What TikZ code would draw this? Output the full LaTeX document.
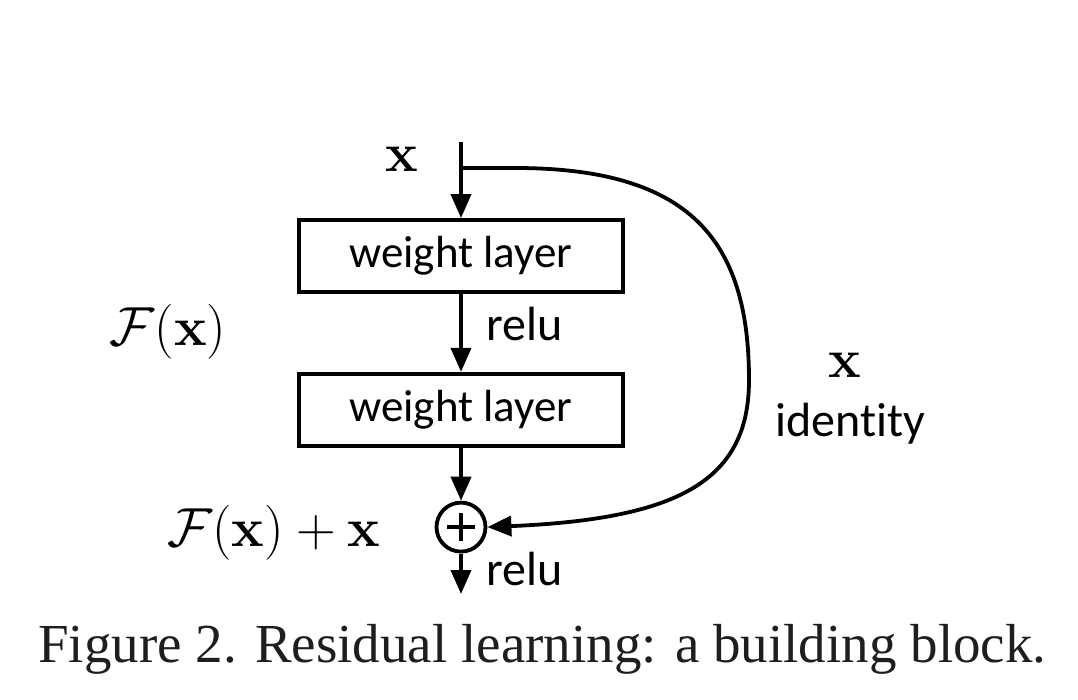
\RequirePackage{fix-cm}
\documentclass[tikz,border=0pt]{standalone}
\usepackage{amsmath}
\usepackage[no-math]{fontspec}
\newfontfamily\labelfont[Ligatures=NoCommon]{Carlito}
\newfontfamily\capfont{Liberation Serif}
\usepackage{tikz}
\usetikzlibrary{positioning}
\usetikzlibrary{arrows.meta}
\definecolor{capgray}{RGB}{30,30,30}

\begin{document}
\begin{tikzpicture}
[
x=1pt, y=-1pt,
node distance = 78pt,
b/.style={rectangle, draw=black, line width=3.8pt, minimum width=324pt, minimum height=72pt, font=\labelfont\fontsize{45}{50}\selectfont},
c/.style={circle, draw=black, line width=3.8pt, minimum size=49pt, inner sep=0pt},
l/.style={inner sep=0pt, font=\labelfont\fontsize{48}{54}\selectfont},
m/.style={inner sep=0pt, font=\fontsize{55}{62}\selectfont},
a/.style={line width=3.8pt, -{Triangle[length=24pt,width=20pt]}}
]
\useasboundingbox (0,0) rectangle (1078,700);

\node[b] (wl1) at (461,256) {weight layer};
\node[b] (wl2) [below=of wl1] {weight layer};
\node[c] (add) [below=53pt of wl2] {};
\draw[line width=3.8pt] (add.center) ++(-14,0) -- ++(28,0);
\draw[line width=3.8pt] (add.center) ++(0,-14) -- ++(0,28);

\coordinate (in) at (461,142);
\coordinate (split) at (461,168);
\coordinate (out) at (461,594);

\draw[a] (in) -- (wl1);
\draw[a] (wl1) -- (wl2);
\draw[a] (wl2) -- (add);
\draw[a] (add) -- (out);
\draw[a] (split) -- (515,168) .. controls (690,168) and (749,240) .. (749,380)
  .. controls (749,480) and (680,519) .. (add.east);

% labels
\node[m, anchor=base] (xin) at (402,172) {$\mathbf{x}$};
\node[l, anchor=base west] (relu1) at (486,340) {relu};
\node[l, anchor=base west] (relu2) at (486,585) {relu};
\node[m, anchor=base] (fx) at (168,345) {$\mathcal{F}(\mathbf{x})$};
\node[m, anchor=base] (fxx) at (274,546) {$\mathcal{F}(\mathbf{x})+\mathbf{x}$};
\node[m, anchor=base] (xid) at (845,377) {$\mathbf{x}$};
\node[l, anchor=base west] (idn) at (775,436) {identity};

\node[anchor=base west, inner sep=0pt, text=capgray, font=\capfont\fontsize{55}{64}\selectfont] (cap) at (38,662) {Figure 2. Residual learning: a building block.};
\end{tikzpicture}
\end{document}
